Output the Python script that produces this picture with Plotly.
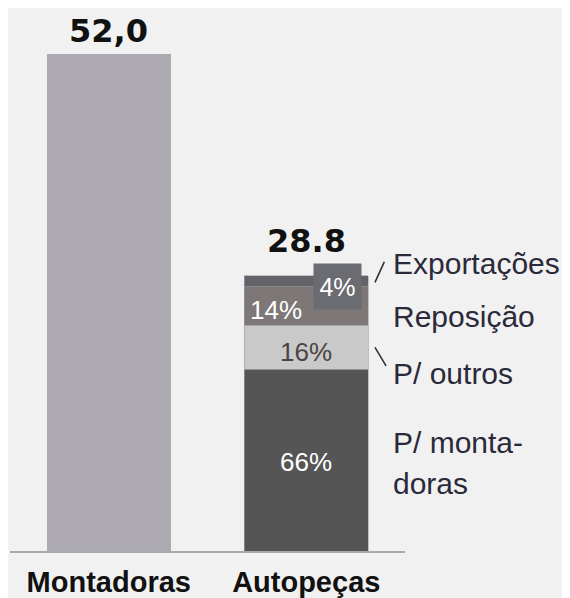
import plotly.graph_objects as go

categories = ["Montadoras", "Autopeças"]
montadoras_total = 52.0
autopecas_total = 28.8
total_labels = ["52,0", "28.8"]

segments = ["P/ montadoras", "P/ outros", "Reposição", "Exportações"]
segment_share = [0.66, 0.16, 0.14, 0.04]
segment_pct_labels = ["66%", "16%", "14%", "4%"]
segment_colors = ["#555555", "#c9c9c9", "#7d7777", "#626268"]
side_labels = ["P/ monta-", "doras", "P/ outros", "Reposição", "Exportações"]

BG = "#f1f1f1"
fig = go.Figure()

fig.add_trace(go.Bar(
    x=[categories[0]], y=[montadoras_total], width=0.63,
    marker=dict(color="#aca9b3", line=dict(width=0)),
    showlegend=False, hoverinfo="skip"))

seg_values = [autopecas_total * s for s in segment_share]
for name, v, c in zip(segments, seg_values, segment_colors):
    fig.add_trace(go.Bar(
        x=[categories[1]], y=[v], width=0.63, name=name,
        marker=dict(color=c, line=dict(width=0.6, color="#a0a0a0")),
        showlegend=False, hoverinfo="skip"))

fig.update_layout(barmode="stack")

ann = []
valfont = dict(family="DejaVu Sans", size=32, color="#111111")
# totals
ann.append(dict(x=categories[0], y=montadoras_total, text="<b>%s</b>" % total_labels[0],
                yanchor="bottom", yshift=2, showarrow=False, font=valfont))
ann.append(dict(x=categories[1], y=autopecas_total, text="<b>%s</b>" % total_labels[1],
                yanchor="bottom", yshift=14, showarrow=False, font=valfont))

# segment labels
cum = 0
mids = []
for v in seg_values:
    mids.append(cum + v / 2)
    cum += v
segfont_w = dict(family="Liberation Sans", size=26, color="#ffffff")
ann.append(dict(x=categories[1], y=mids[0], text=segment_pct_labels[0], showarrow=False,
                yshift=-2, font=segfont_w))
ann.append(dict(x=categories[1], y=mids[1], text=segment_pct_labels[1], showarrow=False,
                yshift=-5, font=dict(family="Liberation Sans", size=26, color="#4a4444")))
ann.append(dict(x=categories[1], y=mids[2], text=segment_pct_labels[2], showarrow=False,
                xshift=-30, yshift=-4, font=segfont_w))
ann.append(dict(x=categories[1], y=mids[3], text=segment_pct_labels[3], showarrow=False,
                xshift=31, yshift=-5, font=dict(family="Liberation Sans", size=25, color="#ffffff"),
                bgcolor="#6b6b72", width=45, height=43))

# side labels
sidefont = dict(family="Liberation Sans", size=30, color="#2a2a3a")
side_y = [11.4, 7.1, 18.6, 24.5, 30.1]
for t, yv in zip(side_labels, side_y):
    ann.append(dict(x=0.965, xref="paper", y=yv, text=t, xanchor="left",
                    showarrow=False, font=sidefont))
# leader lines
ann.append(dict(x=0.924, xref="paper", y=28.1, text="", showarrow=True, arrowhead=0,
                arrowwidth=1.6, arrowcolor="#333333", ax=10, ay=-22, standoff=0, startstandoff=0))
ann.append(dict(x=0.924, xref="paper", y=21.3, text="", showarrow=True, arrowhead=0,
                arrowwidth=1.6, arrowcolor="#333333", ax=12, ay=20, standoff=0, startstandoff=0))
# partial glyph at right edge
ann.append(dict(x=1.4, xref="paper", y=42.2, text="9", xanchor="left", showarrow=False,
                font=dict(family="Liberation Sans", size=29, color="#2a2a50")))

fig.update_layout(
    width=570, height=598,
    paper_bgcolor=BG, plot_bgcolor=BG,
    margin=dict(l=2, r=173, t=12, b=55),
    annotations=ann,
    xaxis=dict(range=[-0.5, 1.5], showline=True, linecolor="#aaaaaa", linewidth=2,
               ticks="", showgrid=False, zeroline=False, ticklabelstandoff=4,
               tickfont=dict(family="Liberation Sans", size=29, color="#111111"),
               tickprefix="<b>", ticksuffix="</b>"),
    yaxis=dict(range=[0, 55.56], visible=False, showgrid=False, zeroline=False),
)

fig.write_html("out.html")
